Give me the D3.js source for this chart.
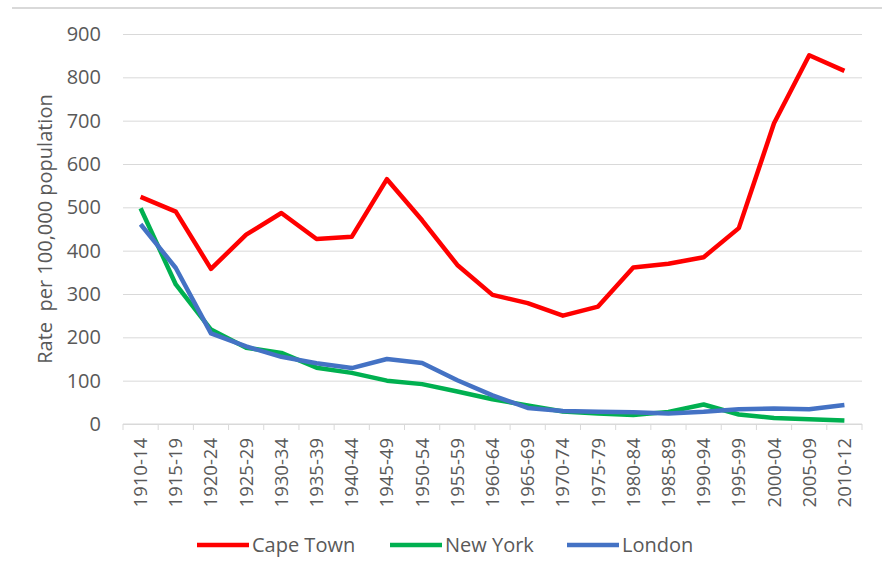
<!DOCTYPE html>
<html>
<head>
<meta charset="utf-8">
<script src="https://cdn.jsdelivr.net/npm/d3@7"></script>
<style>
  body { margin: 0; background: #fff; }
  text { font-family: "Open Sans", sans-serif; fill: #595959; }
</style>
</head>
<body>
<div id="chart"></div>
<script>
// periods on the x axis
const periods = ["1910-14", "1915-19", "1920-24", "1925-29", "1930-34", "1935-39", "1940-44",
  "1945-49", "1950-54", "1955-59", "1960-64", "1965-69", "1970-74", "1975-79", "1980-84",
  "1985-89", "1990-94", "1995-99", "2000-04", "2005-09", "2010-12"];

// rate per 100,000 population
const capeTown = [524, 490, 358, 437, 487, 427, 432, 565, 470, 367, 298, 279, 250, 271, 361,
  370, 385, 452, 694, 851, 815];
const newYork = [498, 322, 218, 176, 164, 130, 118, 100, 92, 75, 57, 43, 29, 24, 21,
  28, 45, 22, 14, 11, 8];
const london = [461, 360, 209, 179, 155, 140, 129, 150, 141, 101, 66, 37, 30, 28, 27,
  24, 28, 34, 36, 34, 44];

const yTicks = [0, 100, 200, 300, 400, 500, 600, 700, 800, 900];

const series = [
  {name: "Cape Town", values: capeTown, color: "#ff0000"},
  {name: "New York", values: newYork, color: "#00b050"},
  {name: "London", values: london, color: "#4472c4"}
];

const W = 882, H = 575;
const margin = {top: 34, right: 20, bottom: 151, left: 123};
const plotW = 862 - margin.left, plotH = H - margin.top - margin.bottom;

const svg = d3.select("#chart").append("svg")
  .attr("width", W)
  .attr("height", H);

// thin frame line at the top
svg.append("line")
  .attr("x1", 12).attr("x2", W)
  .attr("y1", 8).attr("y2", 8)
  .attr("stroke", "#d9d9d9")
  .attr("stroke-width", 2);

const g = svg.append("g")
  .attr("transform", `translate(${margin.left},${margin.top})`);

const x = d3.scaleBand()
  .domain(periods)
  .range([0, plotW]);

const y = d3.scaleLinear()
  .domain([0, 900])
  .range([plotH, 0]);

// gridlines + y labels
const yAxis = g.append("g")
  .call(d3.axisLeft(y).tickValues(yTicks).tickSize(-plotW).tickPadding(22));
yAxis.select(".domain").remove();
yAxis.selectAll("line").attr("stroke", "#d9d9d9");
yAxis.selectAll("text")
  .style("font-size", "20px")
  .style("font-family", "'Open Sans', sans-serif")
  .attr("fill", "#595959");

// x axis: base line, ticks at category boundaries
const xa = g.append("g").attr("transform", `translate(0,${plotH})`);
xa.append("line")
  .attr("x1", 0).attr("x2", plotW)
  .attr("stroke", "#d9d9d9");
const bounds = periods.map(p => x(p)).concat([plotW]);
xa.selectAll("line.tick")
  .data(bounds)
  .join("line")
  .attr("class", "tick")
  .attr("x1", d => d).attr("x2", d => d)
  .attr("y1", 0).attr("y2", 6)
  .attr("stroke", "#d9d9d9");
xa.selectAll("text")
  .data(periods)
  .join("text")
  .attr("transform", d => `translate(${x(d) + x.bandwidth() / 2},14)rotate(-90)`)
  .attr("text-anchor", "end")
  .attr("dy", "0.35em")
  .style("font-size", "18.5px")
  .text(d => d);

// y axis title
svg.append("text")
  .attr("transform", `translate(45,${margin.top + plotH / 2})rotate(-90)`)
  .attr("text-anchor", "middle")
  .attr("dy", "0.35em")
  .style("font-size", "20px")
  .attr("xml:space", "preserve")
  .text("Rate  per 100,000 population");

// lines
const line = d3.line()
  .x((d, i) => x(periods[i]) + x.bandwidth() / 2)
  .y(d => y(d));

g.selectAll("path.series")
  .data(series)
  .join("path")
  .attr("class", "series")
  .attr("fill", "none")
  .attr("stroke", d => d.color)
  .attr("stroke-width", 4.5)
  .attr("stroke-linejoin", "round")
  .attr("d", d => line(d.values));

// legend
const legendX = [197, 390, 567];
const legend = svg.selectAll("g.legend")
  .data(series)
  .join("g")
  .attr("class", "legend")
  .attr("transform", (d, i) => `translate(${legendX[i]},545)`);
legend.append("line")
  .attr("x1", 0).attr("x2", 52)
  .attr("stroke", d => d.color)
  .attr("stroke-width", 4.5);
legend.append("text")
  .attr("x", 55)
  .attr("dy", "0.35em")
  .style("font-size", "20px")
  .text(d => d.name);
</script>
</body>
</html>
